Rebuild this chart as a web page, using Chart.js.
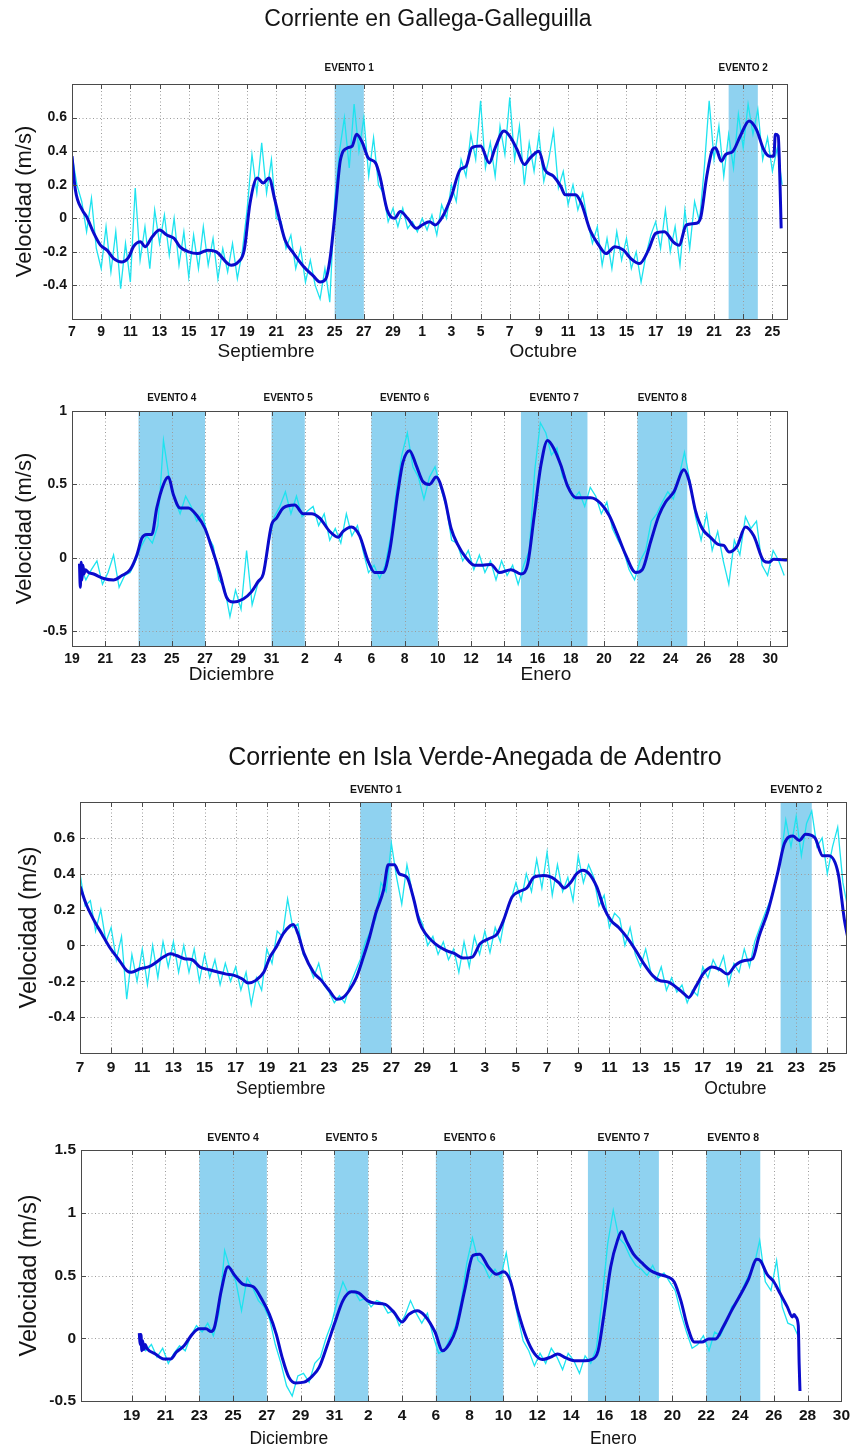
<!DOCTYPE html>
<html>
<head>
<meta charset="utf-8">
<title>Corrientes</title>
<script src="https://cdn.jsdelivr.net/npm/chart.js@4.4.1/dist/chart.umd.min.js"></script>
<style>
  html, body { margin: 0; padding: 0; background: #ffffff; }
  #page { position: relative; width: 855px; height: 1452px; overflow: hidden; background: #ffffff; }
  #page canvas { position: absolute; left: 0; }
</style>
</head>
<body>
<div id="page"></div>
<script>
// Raw current records are sampled every 8 hours; x values are days since the first axis tick.
const RAW_STEP = 1 / 3;

// ---------- Gallega-Galleguilla, 7 Sep – 26 Oct ----------
const ggSepOctRawStart = 0;
const ggSepOctRaw = [
  0.38, 0.20, 0.10,   -0.08, 0.12, -0.18,   -0.30, -0.05, -0.32,   -0.08, -0.42, -0.15,
  -0.38, 0.18, -0.25,  -0.05, -0.30, 0.05,   -0.15, 0.02, -0.22,    0.00, -0.28, -0.08,
  -0.35, -0.10, -0.30, -0.05, -0.28, -0.12,  -0.36, -0.18, -0.32,  -0.15, -0.36, -0.20,
  0.05, 0.38, 0.15,    0.45, 0.15, 0.35,     0.00, -0.02, -0.18,   -0.10, -0.30, -0.18,
  -0.38, -0.25, -0.40, -0.48, -0.30, -0.50,  0.10, 0.40, 0.60,      0.30, 0.68, 0.40,
  0.60, 0.25, 0.48,    0.20, 0.15, -0.02,    0.06, -0.05, 0.06,    -0.06, -0.02, -0.08,
  0.00, -0.07, 0.02,   -0.10, 0.08, 0.00,    0.20, 0.10, 0.35,      0.25, 0.50, 0.35,
  0.70, 0.30, 0.45,    0.25, 0.55, 0.38,     0.72, 0.35, 0.55,      0.20, 0.45, 0.28,
  0.50, 0.22, 0.35,    0.52, 0.18, 0.28,     0.08, 0.20, 0.05,      0.15, -0.02, -0.15,
  -0.05, -0.28, -0.12, -0.30, -0.08, -0.25,  -0.12, -0.30, -0.20,  -0.38, -0.22, -0.10,
  -0.02, -0.18, 0.05,  -0.20, -0.05, -0.28,  0.05, -0.18, 0.10,    -0.02, 0.30, 0.70,
  0.35, 0.55, 0.25,    0.50, 0.30, 0.62,     0.42, 0.68, 0.50,      0.65, 0.35, 0.48,
  0.28, 0.42, 0.20
];
const ggSepOctMean = [
  [0, 0.37], [0.23, 0.17], [0.7, 0.05], [1.0, 0.01], [1.5, -0.09], [1.95, -0.16], [2.4, -0.19],
  [2.86, -0.24], [3.43, -0.26], [3.9, -0.23], [4.2, -0.17], [4.7, -0.14], [5.0, -0.17], [5.5, -0.11],
  [6.0, -0.07], [6.5, -0.10], [7.0, -0.12], [7.4, -0.17], [8.0, -0.20], [8.6, -0.21], [9.3, -0.19],
  [9.9, -0.20], [10.9, -0.28], [11.4, -0.26], [11.8, -0.19], [12.2, 0.09], [12.7, 0.24], [13.1, 0.21],
  [13.5, 0.24], [13.9, 0.11], [14.6, -0.13], [15.2, -0.21], [15.9, -0.29], [16.5, -0.34], [17.0, -0.38],
  [17.4, -0.36], [17.7, -0.23], [18.05, 0.05], [18.4, 0.35], [18.9, 0.42], [19.2, 0.43], [19.5, 0.50],
  [19.9, 0.45], [20.3, 0.36], [20.8, 0.33], [21.1, 0.25], [21.6, 0.05], [22.1, 0.00], [22.5, 0.04],
  [23.0, 0.00], [23.6, -0.06], [24.0, -0.04], [24.5, -0.02], [24.9, -0.04], [25.4, 0.01], [26.0, 0.13],
  [26.6, 0.29], [27.0, 0.31], [27.4, 0.42], [28.0, 0.43], [28.6, 0.33], [29.0, 0.42], [29.6, 0.52],
  [30.0, 0.49], [30.5, 0.41], [31.0, 0.32], [31.4, 0.36], [32.0, 0.40], [32.4, 0.29], [33.0, 0.25],
  [33.5, 0.19], [33.8, 0.14], [34.5, 0.14], [34.9, 0.09], [35.5, -0.07], [36.1, -0.16], [36.6, -0.21],
  [37.2, -0.17], [37.8, -0.19], [38.3, -0.24], [38.9, -0.27], [39.5, -0.19], [40.0, -0.09], [40.6, -0.08],
  [41.2, -0.14], [41.6, -0.16], [42.1, -0.04], [42.8, -0.03], [43.1, 0.01], [43.5, 0.25], [43.9, 0.41],
  [44.1, 0.42], [44.5, 0.34], [44.8, 0.38], [45.3, 0.40], [45.8, 0.49], [46.4, 0.58], [46.9, 0.53],
  [47.4, 0.41], [47.8, 0.37], [48.1, 0.37], [48.2, 0.50], [48.4, 0.49], [48.5, 0.27], [48.6, -0.06]
];
const ggSepOctEvents = [['EVENTO 1', 18, 20], ['EVENTO 2', 45, 47]];

// ---------- Gallega-Galleguilla, 19 Dec – 31 Jan ----------
const ggDecJanRawStart = 0.5;
const ggDecJanRaw = [
  -0.05, -0.15, -0.08,  -0.02, -0.18, -0.10,  0.02, -0.20, -0.12,  -0.10, -0.02, 0.08,
  0.15, 0.10, 0.22,     0.80, 0.55, 0.40,     0.30, 0.42, 0.35,    0.25, 0.30, 0.15,
  0.08, -0.15, -0.20,   -0.40, -0.22, -0.35,  0.05, -0.32, -0.18,  -0.12, 0.10, 0.28,
  0.35, 0.45, 0.30,     0.42, 0.28, 0.32,     0.35, 0.22, 0.30,    0.12, 0.20, 0.10,
  0.30, 0.15, 0.22,     0.05, -0.10, -0.05,   -0.14, -0.05, 0.15,  0.45, 0.70, 0.85,
  0.62, 0.55, 0.40,     0.55, 0.62, 0.48,     0.35, 0.12, 0.10,    -0.02, 0.05, -0.08,
  0.02, -0.10, -0.02,   -0.15, -0.02, -0.12,  -0.05, -0.18, -0.05, 0.05, 0.60, 0.92,
  0.85, 0.70, 0.75,     0.55, 0.50, 0.40,     0.45, 0.35, 0.48,    0.42, 0.30, 0.38,
  0.20, 0.12, 0.05,     -0.08, -0.15, -0.02,  0.05, 0.25, 0.30,    0.38, 0.45, 0.40,
  0.55, 0.72, 0.52,     0.28, 0.12, 0.30,     0.05, 0.18, -0.02,   -0.18, 0.12, 0.02,
  0.28, 0.20, 0.25,     -0.05, -0.12, 0.05,   -0.02, -0.12
];
const ggDecJanMean = [
  [0.45, -0.04], [0.5, -0.20], [0.55, -0.03], [0.6, -0.15], [0.66, -0.05], [0.72, -0.11], [0.8, -0.08],
  [1.0, -0.10], [1.3, -0.11], [1.9, -0.14], [2.5, -0.15], [3.0, -0.12], [3.5, -0.08], [3.9, 0.02],
  [4.2, 0.135], [4.5, 0.16], [4.8, 0.16], [5.1, 0.34], [5.5, 0.50], [5.8, 0.55], [6.1, 0.43],
  [6.5, 0.34], [7.0, 0.34], [7.5, 0.29], [8.0, 0.20], [8.4, 0.07], [8.9, -0.11], [9.3, -0.27],
  [9.7, -0.30], [10.3, -0.28], [10.8, -0.23], [11.2, -0.16], [11.5, -0.11], [12.0, 0.225], [12.3, 0.27],
  [12.7, 0.34], [13.4, 0.36], [13.9, 0.30], [14.4, 0.30], [14.9, 0.27], [15.5, 0.18], [16.0, 0.14],
  [16.3, 0.18], [16.8, 0.21], [17.3, 0.15], [17.8, -0.02], [18.2, -0.10], [18.7, -0.10], [19.1, 0.045],
  [19.6, 0.45], [19.9, 0.65], [20.3, 0.73], [20.7, 0.63], [21.1, 0.52], [21.5, 0.50], [21.9, 0.55],
  [22.4, 0.41], [22.8, 0.20], [23.2, 0.09], [23.7, 0.00], [24.2, -0.05], [24.7, -0.05], [25.2, -0.045],
  [25.7, -0.10], [26.4, -0.08], [27.0, -0.11], [27.4, -0.045], [27.8, 0.29], [28.2, 0.63], [28.6, 0.80],
  [29.0, 0.74], [29.4, 0.63], [29.8, 0.49], [30.3, 0.41], [30.8, 0.41], [31.2, 0.41], [31.8, 0.37],
  [32.3, 0.29], [32.8, 0.16], [33.3, 0.02], [33.9, -0.10], [34.3, -0.08], [34.8, 0.11], [35.3, 0.29],
  [35.7, 0.38], [36.2, 0.45], [36.8, 0.60], [37.1, 0.53], [37.5, 0.32], [37.9, 0.20], [38.4, 0.14],
  [38.9, 0.09], [39.2, 0.085], [39.5, 0.04], [40.0, 0.08], [40.5, 0.21], [41.0, 0.15], [41.6, -0.02],
  [41.9, -0.03], [42.2, -0.01], [43.0, -0.015]
];
const ggDecJanEvents = [
  ['EVENTO 4', 4, 8], ['EVENTO 5', 12, 14], ['EVENTO 6', 18, 22], ['EVENTO 7', 27, 31], ['EVENTO 8', 34, 37]
];

// ---------- Isla Verde-Anegada de Adentro, 7 Sep – 26 Oct ----------
const ivSepOctRawStart = 0;
const ivSepOctRaw = [
  0.40, 0.22, 0.25,    0.08, 0.20, 0.02,     0.10, -0.08, 0.05,    -0.30, -0.05, -0.20,
  -0.02, -0.22, 0.00,  -0.18, 0.02, -0.12,   0.02, -0.15, 0.00,    -0.15, -0.02, -0.20,
  -0.05, -0.18, -0.08, -0.22, -0.10, -0.20,  -0.12, -0.25, -0.15,  -0.33, -0.18, -0.25,
  -0.02, -0.10, 0.08,  0.05, 0.26, 0.10,     0.12, -0.05, -0.10,   -0.18, -0.10, -0.22,
  -0.26, -0.32, -0.28, -0.32, -0.22, -0.15,  -0.08, 0.02, 0.08,    0.15, 0.35, 0.30,
  0.57, 0.38, 0.23,    0.45, 0.30, 0.18,     0.12, 0.00, 0.05,     -0.05, 0.02, -0.08,
  -0.02, -0.15, 0.02,  -0.12, 0.05, -0.05,   0.08, -0.04, 0.10,    0.02, 0.18, 0.25,
  0.35, 0.25, 0.40,    0.30, 0.48, 0.32,     0.52, 0.28, 0.45,     0.30, 0.38, 0.25,
  0.50, 0.35, 0.45,    0.38, 0.22, 0.28,     0.10, 0.18, 0.15,     0.00, 0.10, -0.05,
  -0.12, -0.02, -0.15, -0.20, -0.12, -0.25,  -0.18, -0.26, -0.22,  -0.32, -0.25, -0.28,
  -0.12, -0.18, -0.08, -0.14, -0.06, -0.22,  -0.10, -0.15, -0.02,  -0.12, 0.02, 0.10,
  0.18, 0.25, 0.35,    0.48, 0.70, 0.55,     0.72, 0.50, 0.68,     0.75, 0.55, 0.60,
  0.40, 0.55, 0.66,    0.35, 0.20
];
const ivSepOctMean = [
  [0, 0.33], [0.4, 0.23], [0.9, 0.14], [1.4, 0.065], [1.9, -0.01], [2.5, -0.08], [3.0, -0.14],
  [3.3, -0.15], [3.85, -0.13], [4.4, -0.12], [4.8, -0.10], [5.35, -0.065], [5.8, -0.047], [6.2, -0.056],
  [6.7, -0.074], [7.2, -0.08], [7.7, -0.12], [8.3, -0.136], [8.9, -0.15], [9.4, -0.16], [9.9, -0.167],
  [10.4, -0.186], [10.8, -0.21], [11.3, -0.195], [11.8, -0.15], [12.2, -0.065], [12.6, -0.01],
  [13.05, 0.065], [13.5, 0.11], [13.7, 0.117], [14.0, 0.065], [14.4, -0.047], [15.0, -0.15],
  [15.5, -0.195], [16.0, -0.25], [16.5, -0.30], [16.9, -0.29], [17.3, -0.25], [17.75, -0.18],
  [18.2, -0.065], [18.6, 0.047], [19.0, 0.18], [19.5, 0.31], [19.8, 0.45], [20.2, 0.45], [20.5, 0.40],
  [21.0, 0.38], [21.4, 0.27], [21.8, 0.13], [22.2, 0.065], [22.8, 0.01], [23.5, -0.028], [24.0, -0.043],
  [24.6, -0.07], [25.2, -0.065], [25.7, 0.01], [26.25, 0.037], [26.8, 0.065], [27.2, 0.14], [27.75, 0.27],
  [28.2, 0.30], [28.7, 0.32], [29.15, 0.38], [29.8, 0.39], [30.3, 0.38], [30.75, 0.35], [31.1, 0.32],
  [31.5, 0.35], [31.9, 0.40], [32.3, 0.42], [32.7, 0.40], [33.2, 0.325], [33.65, 0.21], [34.1, 0.14],
  [34.6, 0.10], [35.2, 0.037], [35.7, -0.028], [36.2, -0.10], [36.8, -0.17], [37.2, -0.195],
  [37.8, -0.205], [38.4, -0.24], [38.8, -0.27], [39.1, -0.29], [39.55, -0.23], [40.1, -0.15],
  [40.6, -0.12], [41.1, -0.134], [41.6, -0.16], [42.1, -0.11], [42.7, -0.084], [43.2, -0.074],
  [43.6, 0.047], [44.2, 0.195], [44.8, 0.40], [45.25, 0.57], [45.8, 0.61], [46.2, 0.585], [46.6, 0.62],
  [47.2, 0.60], [47.7, 0.50], [48.1, 0.50], [48.7, 0.40], [49.1, 0.14], [49.3, 0.05]
];
const ivSepOctEvents = [['EVENTO 1', 18, 20], ['EVENTO 2', 45, 47]];

// ---------- Isla Verde-Anegada de Adentro, 16 Dec – 30 Jan ----------
const ivDecJanRawStart = 0.5;
const ivDecJanRaw = [
  0.02, -0.10, -0.05,  -0.15, -0.08, -0.20,  -0.12, -0.06, -0.10,  0.02, 0.10, 0.05,
  0.12, 0.02, 0.20,    0.70, 0.55, 0.45,     0.22, 0.48, 0.40,     0.30, 0.25, 0.15,
  -0.05, -0.20, -0.38, -0.46, -0.30, -0.28,  -0.35, -0.20, -0.15,  0.00, 0.12, 0.30,
  0.45, 0.35, 0.38,    0.30, 0.32, 0.25,     0.30, 0.28, 0.20,     0.22, 0.10, 0.18,
  0.30, 0.20, 0.12,    0.20, 0.02, -0.12,    -0.10, 0.00, 0.10,    0.30, 0.60, 0.80,
  0.62, 0.58, 0.48,    0.55, 0.48, 0.68,     0.40, 0.18, -0.02,    -0.10, -0.22, -0.12,
  -0.20, -0.08, -0.15, -0.25, -0.12, -0.18,  -0.28, -0.14, -0.20,  -0.08, 0.30, 0.75,
  1.02, 0.80, 0.75,    0.65, 0.58, 0.55,     0.50, 0.58, 0.48,     0.52, 0.45, 0.38,
  0.20, 0.05, -0.08,   -0.05, 0.02, -0.10,   0.05, 0.02, 0.12,     0.25, 0.30, 0.40,
  0.50, 0.58, 0.78,    0.45, 0.38, 0.62,     0.25, 0.12, 0.10,     0.00
];
const ivDecJanMean = [
  [0.45, 0.04], [0.5, -0.05], [0.55, 0.03], [0.6, -0.10], [0.65, -0.02], [0.72, -0.09], [0.8, -0.05],
  [0.9, -0.08], [1.4, -0.125], [1.9, -0.165], [2.3, -0.165], [2.65, -0.11], [3.1, -0.06], [3.6, 0.035],
  [4.0, 0.075], [4.4, 0.075], [4.7, 0.053], [4.9, 0.088], [5.3, 0.38], [5.7, 0.57], [6.1, 0.50],
  [6.6, 0.43], [7.2, 0.41], [7.7, 0.31], [8.15, 0.19], [8.55, 0.035], [8.9, -0.15], [9.3, -0.31],
  [9.7, -0.356], [10.2, -0.35], [10.7, -0.30], [11.1, -0.23], [11.6, -0.045], [12.0, 0.115], [12.5, 0.30],
  [13.0, 0.37], [13.45, 0.36], [13.95, 0.30], [14.4, 0.28], [15.0, 0.27], [15.5, 0.21], [16.0, 0.13],
  [16.4, 0.19], [16.9, 0.22], [17.35, 0.18], [17.95, 0.05], [18.4, -0.10], [18.8, -0.045], [19.2, 0.075],
  [19.7, 0.38], [20.2, 0.66], [20.6, 0.67], [21.1, 0.57], [21.6, 0.51], [22.0, 0.53], [22.4, 0.46],
  [22.85, 0.22], [23.35, 0.008], [23.85, -0.125], [24.3, -0.17], [24.8, -0.15], [25.2, -0.125],
  [25.7, -0.157], [26.2, -0.18], [26.8, -0.18], [27.2, -0.17], [27.6, -0.10], [27.95, 0.19], [28.35, 0.57],
  [28.75, 0.78], [29.0, 0.85], [29.3, 0.77], [29.7, 0.67], [30.2, 0.60], [30.7, 0.54], [31.2, 0.51],
  [31.7, 0.49], [32.1, 0.45], [32.5, 0.30], [32.9, 0.09], [33.3, -0.03], [33.75, -0.03], [34.15, -0.005],
  [34.55, -0.005], [35.0, 0.09], [35.5, 0.22], [36.0, 0.34], [36.5, 0.47], [37.0, 0.63], [37.2, 0.62],
  [37.6, 0.51], [38.0, 0.45], [38.4, 0.35], [38.8, 0.25], [39.1, 0.17], [39.2, 0.19], [39.3, 0.17],
  [39.45, 0.10], [39.5, -0.20], [39.55, -0.42]
];
const ivDecJanEvents = [
  ['EVENTO 4', 4, 8], ['EVENTO 5', 12, 14], ['EVENTO 6', 18, 22], ['EVENTO 7', 27, 31.2], ['EVENTO 8', 34, 37.2]
];

// ---------- Axis ticks and month captions ----------
const sepOctTickLabels = ['7', '9', '11', '13', '15', '17', '19', '21', '23', '25', '27', '29',
  '1', '3', '5', '7', '9', '11', '13', '15', '17', '19', '21', '23', '25'];
const decJanTickLabels = ['19', '21', '23', '25', '27', '29', '31', '2', '4', '6', '8', '10',
  '12', '14', '16', '18', '20', '22', '24', '26', '28', '30'];
const sepOctVelTicks = [-0.4, -0.2, 0, 0.2, 0.4, 0.6];
const ggDecJanVelTicks = [-0.5, 0, 0.5, 1];
const ivDecJanVelTicks = [-0.5, 0, 0.5, 1, 1.5];
const ggSepOctMonths = [['Septiembre', 13.3], ['Octubre', 32.3]];
const ggDecJanMonths = [['Diciembre', 9.6], ['Enero', 28.5]];
const ivSepOctMonths = [['Septiembre', 12.9], ['Octubre', 42.1]];
const ivDecJanMonths = [['Diciembre', 9.3], ['Enero', 28.5]];

// ---------- Styling ----------
const FONT = "'Liberation Sans', Arial, Helvetica, sans-serif";
const RAW_COLOR = '#1ee3ef';
const MEAN_COLOR = '#0b0bcc';
const SHADE_COLOR = '#8fd2f0';
const GRID_COLOR = '#9c9c9c';
const BOX_COLOR = '#4a4a4a';
const TEXT_COLOR = '#141414';
const Y_AXIS_W = 50;
const X_AXIS_H = 28;
const PAGE_W = 855;

const topFonts = { tick: 14, yTitle: 22, month: 19, event: 10, title: 23 };
const lowFonts = { tick: 15.5, yTitle: 23.5, month: 17.5, event: 10.5, title: 25 };

const panels = [
  {
    top: 0, height: 372, area: [72, 84, 787, 319],
    xRange: [0, 49], yRange: [-0.6, 0.8], yTicks: sepOctVelTicks, xLabels: sepOctTickLabels,
    raw: ggSepOctRaw, rawStart: ggSepOctRawStart, mean: ggSepOctMean,
    events: ggSepOctEvents, months: ggSepOctMonths, fonts: topFonts,
    title: ['Corriente en Gallega-Galleguilla', 428, 20],
    yTitleX: 25, eventY: 68, monthY: 352
  },
  {
    top: 372, height: 328, area: [72, 411, 787, 646],
    xRange: [0, 43], yRange: [-0.6, 1], yTicks: ggDecJanVelTicks, xLabels: decJanTickLabels,
    raw: ggDecJanRaw, rawStart: ggDecJanRawStart, mean: ggDecJanMean,
    events: ggDecJanEvents, months: ggDecJanMonths, fonts: topFonts,
    title: null, yTitleX: 25, eventY: 398, monthY: 675
  },
  {
    top: 700, height: 410, area: [80, 802, 846, 1053],
    xRange: [0, 49.2], yRange: [-0.6, 0.8], yTicks: sepOctVelTicks, xLabels: sepOctTickLabels,
    raw: ivSepOctRaw, rawStart: ivSepOctRawStart, mean: ivSepOctMean,
    events: ivSepOctEvents, months: ivSepOctMonths, fonts: lowFonts,
    title: ['Corriente en Isla Verde-Anegada de Adentro', 475, 758],
    yTitleX: 30, eventY: 790, monthY: 1089
  },
  {
    top: 1110, height: 342, area: [81, 1150, 845, 1401],
    xRange: [-3, 42], yRange: [-0.5, 1.5], yTicks: ivDecJanVelTicks, xLabels: decJanTickLabels,
    raw: ivDecJanRaw, rawStart: ivDecJanRawStart, mean: ivDecJanMean,
    events: ivDecJanEvents, months: ivDecJanMonths, fonts: lowFonts,
    title: null, yTitleX: 30, eventY: 1138, monthY: 1439
  }
];

// Shaded event bands, dotted grid, axis box, inward ticks and captions.
function makeDecor(p) {
  return {
    id: 'panelDecor',
    beforeDatasetsDraw(chart) {
      const { ctx, chartArea: a, scales: { x, y } } = chart;
      ctx.save();
      ctx.fillStyle = SHADE_COLOR;
      p.events.forEach(([, from, to]) => {
        const x0 = x.getPixelForValue(from), x1 = x.getPixelForValue(to);
        ctx.fillRect(x0, a.top, x1 - x0, a.bottom - a.top);
      });
      ctx.strokeStyle = GRID_COLOR;
      ctx.lineWidth = 1;
      ctx.setLineDash([1, 2.5]);
      ctx.beginPath();
      x.ticks.forEach(t => {
        const px = Math.round(x.getPixelForValue(t.value)) + 0.5;
        ctx.moveTo(px, a.top); ctx.lineTo(px, a.bottom);
      });
      y.ticks.forEach(t => {
        const py = Math.round(y.getPixelForValue(t.value)) + 0.5;
        ctx.moveTo(a.left, py); ctx.lineTo(a.right, py);
      });
      ctx.stroke();
      ctx.restore();
    },
    afterDraw(chart) {
      const { ctx, chartArea: a, scales: { x, y } } = chart;
      const f = p.fonts;
      ctx.save();
      // axis box
      ctx.strokeStyle = BOX_COLOR;
      ctx.lineWidth = 1;
      ctx.strokeRect(Math.round(a.left) + 0.5, Math.round(a.top) + 0.5,
        Math.round(a.right - a.left), Math.round(a.bottom - a.top));
      // inward tick marks
      ctx.beginPath();
      x.ticks.forEach(t => {
        const px = Math.round(x.getPixelForValue(t.value)) + 0.5;
        ctx.moveTo(px, a.bottom); ctx.lineTo(px, a.bottom - 5);
        ctx.moveTo(px, a.top); ctx.lineTo(px, a.top + 5);
      });
      y.ticks.forEach(t => {
        const py = Math.round(y.getPixelForValue(t.value)) + 0.5;
        ctx.moveTo(a.left, py); ctx.lineTo(a.left + 5, py);
        ctx.moveTo(a.right, py); ctx.lineTo(a.right - 5, py);
      });
      ctx.stroke();

      ctx.fillStyle = TEXT_COLOR;
      ctx.textAlign = 'center';
      ctx.textBaseline = 'middle';
      // event names
      ctx.font = `bold ${f.event}px ${FONT}`;
      p.events.forEach(([name, from, to]) => {
        ctx.fillText(name, (x.getPixelForValue(from) + x.getPixelForValue(to)) / 2, p.eventY - p.top);
      });
      // month captions
      ctx.font = `${f.month}px ${FONT}`;
      p.months.forEach(([name, day]) => {
        ctx.fillText(name, x.getPixelForValue(day), p.monthY - p.top);
      });
      // panel title
      if (p.title) {
        ctx.font = `${f.title}px ${FONT}`;
        ctx.fillText(p.title[0], p.title[1], p.title[2] - p.top);
      }
      // y-axis title
      ctx.translate(p.yTitleX, (a.top + a.bottom) / 2);
      ctx.rotate(-Math.PI / 2);
      ctx.font = `${f.yTitle}px ${FONT}`;
      ctx.fillText('Velocidad (m/s)', 0, 0);
      ctx.restore();
    }
  };
}

const page = document.getElementById('page');

panels.forEach(p => {
  const canvas = document.createElement('canvas');
  canvas.width = PAGE_W;
  canvas.height = p.height;
  canvas.style.top = p.top + 'px';
  canvas.style.width = PAGE_W + 'px';
  canvas.style.height = p.height + 'px';
  page.appendChild(canvas);

  const [left, top, right, bottom] = p.area;
  const xTickDays = p.xLabels.map((_, i) => i * 2);
  const tickFont = { family: FONT, size: p.fonts.tick, weight: 'bold' };

  new Chart(canvas, {
    type: 'line',
    data: {
      datasets: [
        {
          label: 'media',
          data: p.mean.map(([d, v]) => ({ x: d, y: v })),
          borderColor: MEAN_COLOR,
          borderWidth: 3,
          pointRadius: 0,
          cubicInterpolationMode: 'monotone',
          fill: false,
          order: 0,
          clip: 0
        },
        {
          label: 'registro',
          data: p.raw.map((v, i) => ({ x: p.rawStart + i * RAW_STEP, y: v })),
          borderColor: RAW_COLOR,
          borderWidth: 1.3,
          pointRadius: 0,
          tension: 0,
          fill: false,
          order: 1,
          clip: 0
        }
      ]
    },
    options: {
      responsive: false,
      animation: false,
      devicePixelRatio: 1,
      events: [],
      layout: {
        padding: {
          left: left - Y_AXIS_W,
          right: PAGE_W - right,
          top: top - p.top,
          bottom: p.top + p.height - bottom - X_AXIS_H
        }
      },
      scales: {
        x: {
          type: 'linear',
          min: p.xRange[0],
          max: p.xRange[1],
          grid: { display: false, drawTicks: false },
          border: { display: false },
          afterBuildTicks: s => { s.ticks = xTickDays.map(v => ({ value: v })); },
          afterFit: s => { s.height = X_AXIS_H; },
          ticks: {
            autoSkip: false,
            maxRotation: 0,
            padding: 5,
            color: TEXT_COLOR,
            font: tickFont,
            callback: (v, i) => p.xLabels[i]
          }
        },
        y: {
          type: 'linear',
          min: p.yRange[0],
          max: p.yRange[1],
          grid: { display: false, drawTicks: false },
          border: { display: false },
          afterBuildTicks: s => { s.ticks = p.yTicks.map(v => ({ value: v })); },
          afterFit: s => { s.width = Y_AXIS_W; },
          ticks: {
            padding: 5,
            color: TEXT_COLOR,
            font: tickFont,
            callback: v => String(v)
          }
        }
      },
      plugins: {
        legend: { display: false },
        tooltip: { enabled: false },
        title: { display: false }
      }
    },
    plugins: [makeDecor(p)]
  });
});
</script>
</body>
</html>
